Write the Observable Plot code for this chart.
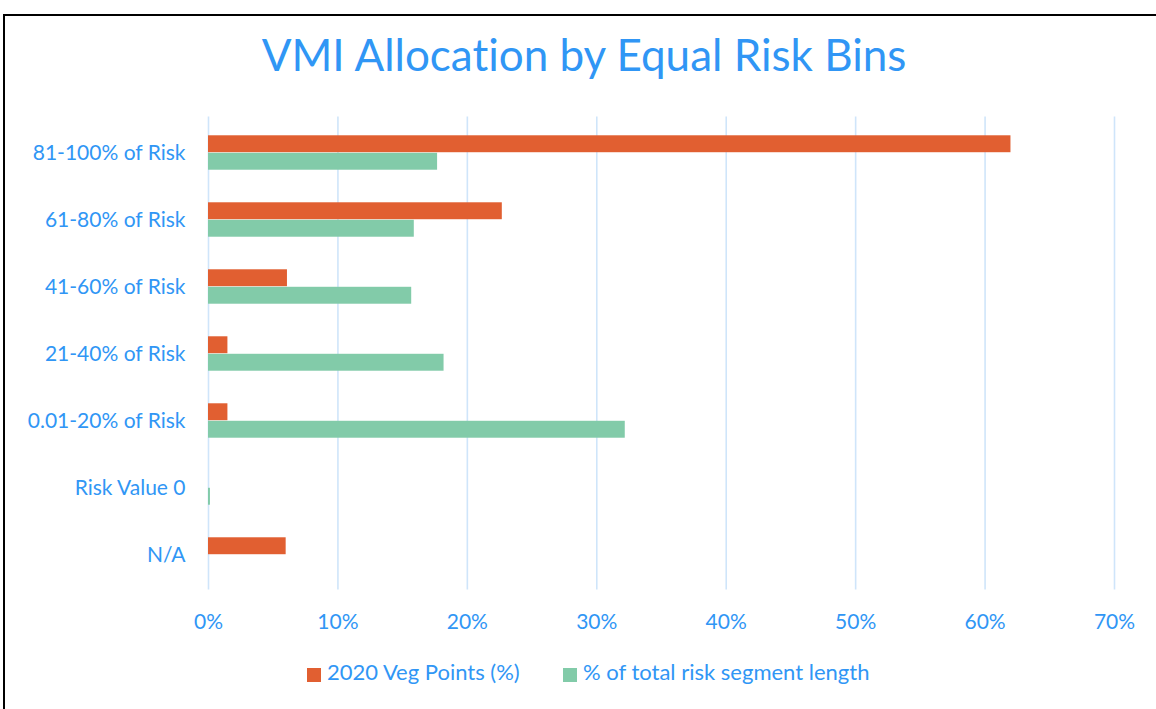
<!DOCTYPE html>
<html>
<head>
<meta charset="utf-8">
<script src="https://cdn.jsdelivr.net/npm/d3@7"></script>
<script src="https://cdn.jsdelivr.net/npm/@observablehq/plot@0.6"></script>
<style>
  html, body { margin: 0; padding: 0; background: #fff; overflow: hidden; width: 1156px; height: 709px; }
  body { font-family: Lato, "Open Sans", sans-serif; position: relative; font-variant-ligatures: none; }
  #frame { position: absolute; left: 3px; top: 14px; width: 1200px; height: 800px; border: 2px solid #000; box-sizing: border-box; }
  #title { position: absolute; left: 0; top: 32px; width: 1168px; text-align: center; font-size: 44px; line-height: 44px; color: #3096F5; white-space: nowrap; }
  #chart { position: absolute; left: 0; top: 100px; }
  #chart svg { font-variant-ligatures: none; }
  .sw { position: absolute; width: 14px; height: 14px; top: 668px; }
  .lt { position: absolute; top: 661px; font-size: 22px; line-height: 22px; color: #3096F5; white-space: nowrap; }
</style>
</head>
<body>
<div id="frame"></div>
<div id="title"></div>
<div id="chart"></div>
<div id="legend"></div>
<script>
// ---- data ----
const categories = ["81-100% of Risk", "61-80% of Risk", "41-60% of Risk", "21-40% of Risk", "0.01-20% of Risk", "Risk Value 0", "N/A"];
const vegPoints   = [0.620, 0.227, 0.061, 0.015, 0.015, 0.000, 0.060];
const segLength   = [0.177, 0.159, 0.157, 0.182, 0.322, 0.0015, 0.000];
const seriesNames = ["2020 Veg Points (%)", "% of total risk segment length"];
const seriesColors = ["#E15F31", "#82CBA9"];
const xTicks = [0, 0.1, 0.2, 0.3, 0.4, 0.5, 0.6, 0.7];
const titleText = "VMI Allocation by Equal Risk Bins";

const vegData = categories.map((c, i) => ({category: c, value: vegPoints[i]}));
const segData = categories.map((c, i) => ({category: c, value: segLength[i]}));

const textColor = "#3096F5";
const plotTop = 16.6, plotBottom = 589.6 - 100;
const svgHeight = 550;
const step = (plotBottom - plotTop) / categories.length;
const barH = 17.5;

document.getElementById("title").textContent = titleText;

const chart = Plot.plot({
  width: 1156,
  height: svgHeight,
  marginLeft: 208,
  marginRight: 42,
  marginTop: plotTop,
  marginBottom: svgHeight - plotBottom,
  style: { fontFamily: "Lato, 'Open Sans', sans-serif", fontSize: "21px", background: "transparent" },
  x: { domain: [0, 0.7] },
  y: { domain: categories, padding: 0 },
  marks: [
    Plot.ruleX(xTicks, { x: d => d, stroke: "#CFE5FA", strokeWidth: 1.6 }),
    Plot.barX(vegData, { x: "value", y: "category", fill: seriesColors[0], insetTop: step / 2 - barH, insetBottom: step / 2 }),
    Plot.barX(segData, { x: "value", y: "category", fill: seriesColors[1], insetTop: step / 2, insetBottom: step / 2 - barH }),
    Plot.axisX({ ticks: xTicks, tickFormat: d3.format(".0%"), tickSize: 0, tickPadding: 23.5, fontSize: 21, color: textColor, label: null }),
    Plot.axisY({ tickSize: 0, tickPadding: 23, fontSize: 21, color: textColor, label: null })
  ]
});
document.getElementById("chart").appendChild(chart);

// ---- legend ----
const legend = document.getElementById("legend");
const lx = [[307, 327], [563, 583]];
seriesNames.forEach((name, i) => {
  const sw = document.createElement("div");
  sw.className = "sw";
  sw.style.left = lx[i][0] + "px";
  sw.style.background = seriesColors[i];
  legend.appendChild(sw);
  const t = document.createElement("div");
  t.className = "lt";
  t.style.left = lx[i][1] + "px";
  t.textContent = name;
  legend.appendChild(t);
});
</script>
</body>
</html>
